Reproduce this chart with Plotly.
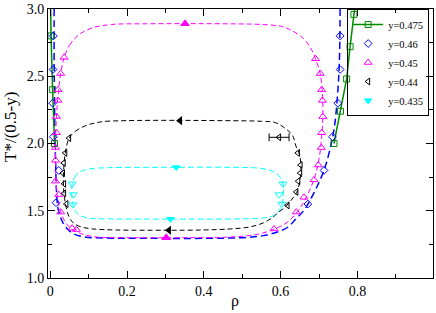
import plotly.graph_objects as go

# ---------------- data ----------------
# y = 0.475 (green, solid line with squares)
g_left_x = [0.000, 0.002, 0.006, 0.011]
g_left_T = [3.20, 2.80, 2.40, 2.00]
g_right_x = [0.739, 0.756, 0.772, 0.781, 0.791, 0.806]
g_right_T = [2.00, 2.24, 2.48, 2.72, 2.96, 3.20]

# y = 0.46 (blue diamonds + dashed fit)
b_pts_x = [0.008, 0.007, 0.006, 0.008, 0.022, 0.015, 0.755, 0.755, 0.749, 0.735, 0.713, 0.671]
b_pts_T = [2.80, 2.55, 2.30, 2.05, 1.80, 1.56, 2.80, 2.55, 2.30, 2.05, 1.80, 1.55]
b_fit_x = [0.010, 0.010, 0.011, 0.012, 0.014, 0.016, 0.020, 0.028, 0.040, 0.060, 0.090, 0.140,
           0.250, 0.400, 0.500, 0.555, 0.595, 0.620, 0.640, 0.660, 0.675, 0.695, 0.713, 0.728,
           0.740, 0.748, 0.753, 0.755]
b_fit_T = [3.00, 2.60, 2.30, 2.05, 1.85, 1.65, 1.52, 1.44, 1.38, 1.33, 1.305, 1.297,
           1.295, 1.295, 1.300, 1.315, 1.345, 1.380, 1.440, 1.500, 1.570, 1.680, 1.800, 1.950,
           2.120, 2.350, 2.600, 3.000]

# y = 0.45 (magenta triangles + dashed loop)
m_pts_x = [0.036, 0.027, 0.020, 0.020, 0.016, 0.016, 0.0135, 0.0135, 0.0135, 0.022, 0.027, 0.057, 0.068,
           0.691, 0.703, 0.707, 0.709, 0.710, 0.707, 0.706, 0.698, 0.687, 0.661, 0.641, 0.583]
m_pts_T = [2.64, 2.52, 2.40, 2.32, 2.20, 2.08, 1.97, 1.875, 1.72, 1.62, 1.49, 1.37, 1.36,
           2.63, 2.52, 2.40, 2.32, 2.20, 2.08, 1.97, 1.84, 1.73, 1.60, 1.49, 1.365]
m_arrow_x = [0.351, 0.302]
m_arrow_T = [2.89, 1.30]
m_fit_x = [0.036, 0.050, 0.075, 0.110, 0.160, 0.250, 0.450, 0.550, 0.600, 0.622, 0.660, 0.682,
           0.691, 0.703, 0.709, 0.710, 0.707, 0.701, 0.690, 0.672, 0.648, 0.620, 0.585, 0.540,
           0.470, 0.350, 0.200, 0.120, 0.080, 0.055, 0.038, 0.026, 0.018, 0.0145, 0.0135, 0.014,
           0.016, 0.020, 0.027, 0.036]
m_fit_T = [2.64, 2.73, 2.81, 2.86, 2.885, 2.89, 2.89, 2.885, 2.872, 2.85, 2.78, 2.69,
           2.63, 2.52, 2.35, 2.20, 2.05, 1.90, 1.76, 1.63, 1.51, 1.42, 1.365, 1.325,
           1.305, 1.300, 1.300, 1.305, 1.330, 1.365, 1.420, 1.500, 1.620, 1.750, 1.900, 2.050,
           2.200, 2.350, 2.520, 2.640]

# y = 0.44 (black left triangles + dashed loop)
k_pts_x = [0.049, 0.039, 0.035, 0.033, 0.036, 0.036, 0.042,
           0.645, 0.652, 0.651, 0.646, 0.641, 0.618]
k_pts_T = [2.04, 1.93, 1.855, 1.78, 1.70, 1.63, 1.55,
           1.93, 1.84, 1.78, 1.72, 1.64, 1.54]
k_err_x = [0.596]
k_err_T = [2.046]
k_err_dx = [0.026]
k_arrow_x = [0.338, 0.309]
k_arrow_T = [2.17, 1.355]
k_fit_x = [0.049, 0.065, 0.090, 0.130, 0.200, 0.450, 0.550, 0.587, 0.613, 0.631, 0.640, 0.648,
           0.653, 0.651, 0.644, 0.628, 0.613, 0.595, 0.579, 0.555, 0.520, 0.470, 0.400, 0.300,
           0.170, 0.110, 0.080, 0.060, 0.048, 0.041, 0.036, 0.034, 0.035, 0.039, 0.049]
k_fit_T = [2.04, 2.09, 2.13, 2.16, 2.17, 2.17, 2.165, 2.155, 2.11, 2.06, 1.98, 1.93,
           1.84, 1.74, 1.65, 1.58, 1.53, 1.49, 1.45, 1.41, 1.38, 1.365, 1.357, 1.355,
           1.357, 1.365, 1.38, 1.41, 1.46, 1.53, 1.62, 1.72, 1.82, 1.93, 2.04]

# y = 0.435 (cyan down triangles + dashed loop)
c_pts_x = [0.057, 0.060, 0.059, 0.606, 0.596, 0.603]
c_pts_T = [1.70, 1.62, 1.545, 1.70, 1.62, 1.55]
c_arrow_x = [0.328, 0.313]
c_arrow_T = [1.823, 1.439]
c_fit_x = [0.057, 0.062, 0.075, 0.100, 0.150, 0.300, 0.500, 0.550, 0.578, 0.596, 0.606, 0.607,
           0.604, 0.596, 0.580, 0.550, 0.500, 0.300, 0.150, 0.100, 0.078, 0.065, 0.058, 0.056,
           0.057]
c_fit_T = [1.70, 1.745, 1.785, 1.81, 1.82, 1.823, 1.822, 1.815, 1.795, 1.76, 1.70, 1.62,
           1.56, 1.50, 1.462, 1.445, 1.44, 1.438, 1.44, 1.445, 1.465, 1.50, 1.56, 1.63,
           1.70]

labels = ["y=0.475", "y=0.46", "y=0.45", "y=0.44", "y=0.435"]
GREEN = "rgb(0,140,0)"
BLUE = "rgb(0,0,255)"
MAG = "rgb(255,0,255)"
BLK = "rgb(0,0,0)"
CYAN = "rgb(0,255,255)"

SERIF = "Liberation Serif, Times New Roman, serif"

fig = go.Figure()

# dashed fitted curves
for fx, fT, col, w, dash in [
    (b_fit_x, b_fit_T, BLUE, 1.5, "7px,4px"),
    (m_fit_x, m_fit_T, MAG, 1.0, "5px,3px"),
    (k_fit_x, k_fit_T, BLK, 1.0, "5px,3px"),
    (c_fit_x, c_fit_T, CYAN, 1.0, "6px,3px"),
]:
    fig.add_trace(go.Scatter(x=fx, y=fT, mode="lines", showlegend=False, hoverinfo="skip",
                             line=dict(color=col, width=w, dash=dash, shape="spline", smoothing=1.0)))

# green solid lines with squares
fig.add_trace(go.Scatter(x=g_left_x, y=g_left_T, mode="lines+markers", name=labels[0],
                         legendrank=1, legendgroup="g",
                         line=dict(color=GREEN, width=1.5),
                         marker=dict(symbol="square-open", size=6, color=GREEN, line=dict(width=1, color=GREEN))))
fig.add_trace(go.Scatter(x=g_right_x, y=g_right_T, mode="lines+markers", name=labels[0],
                         showlegend=False, legendgroup="g",
                         line=dict(color=GREEN, width=1.5),
                         marker=dict(symbol="square-open", size=6, color=GREEN, line=dict(width=1, color=GREEN))))

# blue diamonds
fig.add_trace(go.Scatter(x=b_pts_x, y=b_pts_T, mode="markers", name=labels[1], legendrank=2,
                         marker=dict(symbol="diamond-open", size=6, color=BLUE, line=dict(width=1, color=BLUE))))

# magenta triangles
fig.add_trace(go.Scatter(x=m_pts_x, y=m_pts_T, mode="markers", name=labels[2], legendrank=3,
                         marker=dict(symbol="triangle-up-open", size=7, color=MAG, line=dict(width=1, color=MAG))))
fig.add_trace(go.Scatter(x=m_arrow_x, y=m_arrow_T, mode="markers", showlegend=False,
                         marker=dict(symbol="triangle-up", size=9, color=MAG)))

# black left triangles
fig.add_trace(go.Scatter(x=k_pts_x, y=k_pts_T, mode="markers", name=labels[3], legendrank=4,
                         marker=dict(symbol="triangle-left-open", size=6, color=BLK, line=dict(width=1, color=BLK))))
fig.add_trace(go.Scatter(x=k_err_x, y=k_err_T, mode="markers", showlegend=False,
                         error_x=dict(type="data", array=k_err_dx, color=BLK, thickness=1, width=4),
                         marker=dict(symbol="triangle-left-open", size=6, color=BLK, line=dict(width=1, color=BLK))))
fig.add_trace(go.Scatter(x=k_arrow_x, y=k_arrow_T, mode="markers", showlegend=False,
                         marker=dict(symbol="triangle-left", size=8, color=BLK)))

# cyan down triangles
fig.add_trace(go.Scatter(x=c_pts_x, y=c_pts_T, mode="markers", showlegend=False,
                         marker=dict(symbol="triangle-down-open", size=7, color=CYAN, line=dict(width=1, color=CYAN))))
fig.add_trace(go.Scatter(x=c_arrow_x, y=c_arrow_T, mode="markers", name=labels[4], legendrank=5,
                         marker=dict(symbol="triangle-down", size=8, color=CYAN)))

axis_common = dict(
    showgrid=False, zeroline=False, showline=True, linecolor="black", linewidth=1,
    mirror="ticks", ticks="inside", ticklen=7, tickwidth=1, tickcolor="black",
    ticklabeloverflow="allow",
    tickfont=dict(family=SERIF, size=14, color="black"),
)
fig.update_xaxes(range=[-0.006, 0.997], tickvals=[0, 0.2, 0.4, 0.6, 0.8], ticktext=["0", "0.2", "0.4", "0.6", "0.8"],
                 minor=dict(ticks="inside", ticklen=4, dtick=0.1, tick0=0, tickcolor="black"),
                 **axis_common)
fig.update_yaxes(range=[1.0, 3.0], dtick=0.5, tickformat=".1f",
                 minor=dict(ticks="inside", ticklen=4, dtick=0.25, tick0=0, tickcolor="black"),
                 **axis_common)

fig.add_annotation(text="ρ", xref="paper", yref="paper", x=0.487, y=-0.085, showarrow=False,
                   xanchor="center", yanchor="middle", font=dict(family=SERIF, size=16, color="black"))
fig.add_annotation(text="T*/(0.5-y)", xref="paper", yref="paper", x=-0.098, y=0.5625, showarrow=False,
                   textangle=-90, xanchor="center", yanchor="middle",
                   font=dict(family=SERIF, size=17, color="black"))

fig.update_layout(
    width=436, height=313,
    margin=dict(l=48, r=2, t=6, b=35),
    paper_bgcolor="white", plot_bgcolor="white",
    legend=dict(x=0.99, y=1.0, xanchor="right", yanchor="top", bgcolor="rgba(255,255,255,0)",
                bordercolor="black", borderwidth=1, itemwidth=30, tracegroupgap=0,
                font=dict(family=SERIF, size=10.5, color="black")),
)

fig.write_html("out.html", config={"displayModeBar": False},
               post_script="document.body.style.margin='0';document.body.style.padding='0';")
